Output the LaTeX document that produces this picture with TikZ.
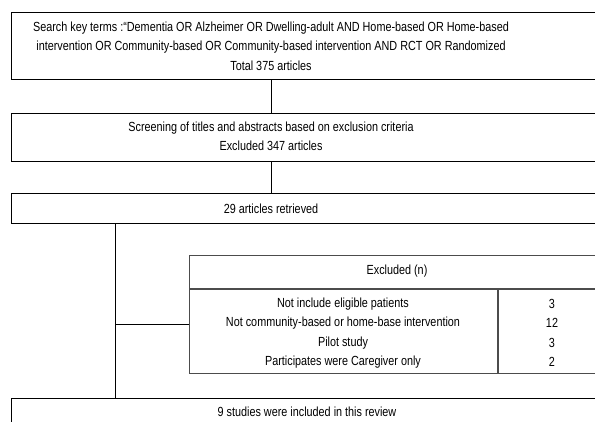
\documentclass[tikz,border=0pt]{standalone}
\usepackage{fontspec}
\setmainfont[FakeStretch=0.82]{Liberation Sans}
\usepackage{xcolor}
\usepackage{tikz}
\usetikzlibrary{positioning}

\begin{document}
\begin{tikzpicture}[x=1pt, y=-1pt,
        box/.style={rectangle, draw=black, line width=1.1pt, inner sep=0pt, anchor=north west},
        exbox/.style={rectangle, draw=black!70, line width=1.3pt, inner sep=0pt, anchor=north west},
        txt/.style={align=center, inner sep=0pt, font=\fontsize{13.2}{19.3}\selectfont},
        link/.style={draw=black, line width=0.9pt}
    ]
        \useasboundingbox (0,0) rectangle (595,421);
        \clip (0,0) rectangle (595,421);

        % Main flow
        \node [box, minimum width=600, minimum height=67] (search) at (11,12) {};
        \node [txt] (search_t) at (271,46) {Search key terms :“Dementia OR Alzheimer OR Dwelling-adult AND Home-based OR Home-based\\ intervention OR Community-based OR Community-based intervention AND RCT OR Randomized\\ Total 375 articles};
        \node [box, minimum width=600, minimum height=48] (screen) at (11,113) {};
        \node [txt] (screen_t) at (271,136) {Screening of titles and abstracts based on exclusion criteria\\ Excluded 347 articles};
        \node [box, minimum width=600, minimum height=30] (retrieved) at (11,193) {};
        \node [txt] (retrieved_t) at (271,209) {29 articles retrieved};
        \node [box, minimum width=600, minimum height=40] (included) at (11,398) {};
        \node [txt] (included_t) at (307,412) {9 studies were included in this review};

        % Excluded table
        \node [exbox, minimum width=418, minimum height=118] (excl) at (189,255) {};
        \coordinate (excl_rule) at (189,289);
        \coordinate (excl_col) at (498,289);
        \draw [exbox] (excl_rule) -- (excl_rule -| excl.east);
        \draw [exbox] (excl_col) -- (excl_col |- excl.south);
        \node [txt] (excl_head) at (397,271) {Excluded (n)};
        \node [txt] (excl_why) at (343,333) {Not include eligible patients\\ Not community-based or home-base intervention\\ Pilot study\\ Participates were Caregiver only};
        \node [txt] (excl_n) at (552,333) {3\\ 12\\ 3\\ 2};

        \draw [link] (search_t |- search.south) -- (search_t |- screen.north);
        \draw [link] (search_t |- screen.south) -- (search_t |- retrieved.north);
        \coordinate (branch) at (115,324);
        \draw [link] (retrieved.south -| branch) -- (included.north -| branch);
        \draw [link] (branch) -- (excl.west |- branch);
    \end{tikzpicture}
\end{document}
